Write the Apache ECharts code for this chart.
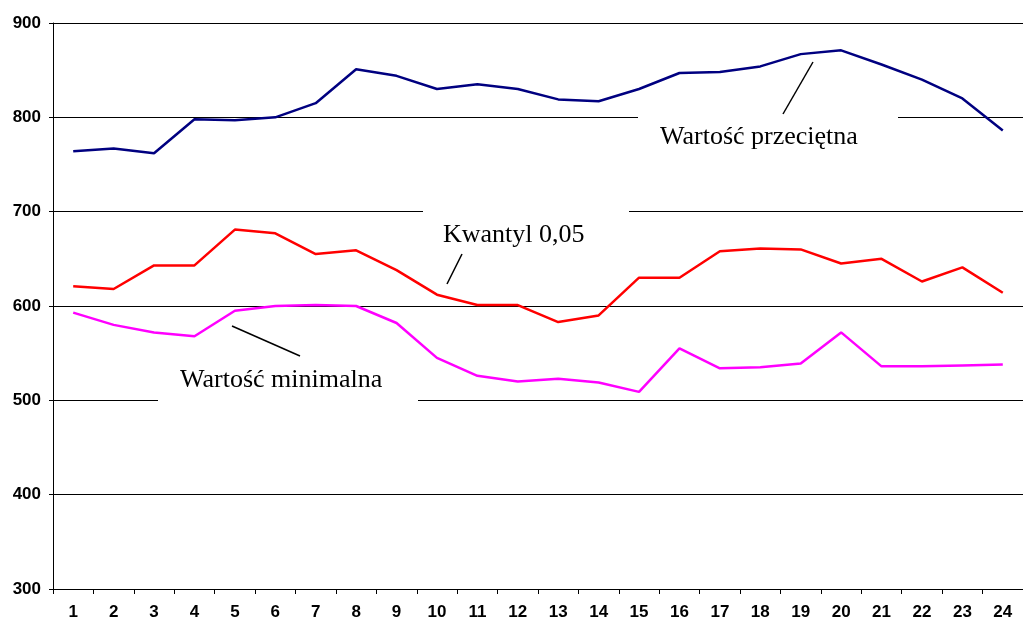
<!DOCTYPE html>
<html>
<head>
<meta charset="utf-8">
<script src="https://cdn.jsdelivr.net/npm/echarts@6/dist/echarts.min.js"></script>
<style>
  html, body { margin: 0; padding: 0; background: #fff; }
  #chart { width: 1023px; height: 624px; }
</style>
</head>
<body>
<div id="chart"></div>
<script>
const hours = ['1','2','3','4','5','6','7','8','9','10','11','12','13','14','15','16','17','18','19','20','21','22','23','24']

// Wartość przeciętna
const avgValues = [764, 767, 762, 798, 797, 800, 815, 851, 844, 830, 835, 830, 819, 817, 830, 847, 848, 854, 867, 871, 856, 840, 820, 786]
// Kwantyl 0,05
const q05Values = [621, 618, 643, 643, 681, 677, 655, 659, 638, 612, 601, 601, 583, 590, 630, 630, 658, 661, 660, 645, 650, 626, 641, 614]
// Wartość minimalna
const minValues = [593, 580, 572, 568, 595, 600, 601, 600, 582, 545, 526, 520, 523, 519, 509, 555, 534, 535, 539, 572, 536, 536, 537, 538]

const chart = echarts.init(document.getElementById('chart'))

const labelFont = { fontFamily: 'Liberation Serif', fontSize: 26, fill: '#000' }

chart.setOption({
  animation: false,
  grid: { left: 53, right: 0, top: 23, bottom: 35 },
  xAxis: {
    type: 'category',
    data: hours,
    boundaryGap: true,
    axisLine: { lineStyle: { color: '#000', width: 1 } },
    axisTick: { show: true, alignWithLabel: false, length: 5, lineStyle: { color: '#000' } },
    axisLabel: { color: '#000', fontFamily: 'Liberation Sans', fontWeight: 'bold', fontSize: 17, margin: 15 }
  },
  yAxis: {
    type: 'value',
    min: 300,
    max: 900,
    interval: 100,
    axisLine: { show: true, lineStyle: { color: '#000', width: 1 } },
    axisTick: { show: true, length: 4, lineStyle: { color: '#000' } },
    axisLabel: { color: '#000', fontFamily: 'Liberation Sans', fontWeight: 'bold', fontSize: 17, margin: 12 },
    splitLine: { lineStyle: { color: '#000', width: 1 } }
  },
  series: [
    {
      name: 'Wartość przeciętna',
      type: 'line',
      data: avgValues,
      symbol: 'none',
      lineStyle: { color: '#000080', width: 2.5 },
      z: 5
    },
    {
      name: 'Kwantyl 0,05',
      type: 'line',
      data: q05Values,
      symbol: 'none',
      lineStyle: { color: '#ff0000', width: 2.5 },
      z: 5
    },
    {
      name: 'Wartość minimalna',
      type: 'line',
      data: minValues,
      symbol: 'none',
      lineStyle: { color: '#ff00ff', width: 2.5 },
      z: 5
    }
  ],
  graphic: [
    // white label boxes breaking the gridlines
    { type: 'rect', shape: { x: 638, y: 112, width: 260, height: 42 }, style: { fill: '#fff' }, z: 3 },
    { type: 'rect', shape: { x: 423, y: 205, width: 206, height: 42 }, style: { fill: '#fff' }, z: 3 },
    { type: 'rect', shape: { x: 158, y: 360, width: 260, height: 44 }, style: { fill: '#fff' }, z: 3 },
    // leader lines
    { type: 'line', shape: { x1: 783, y1: 114, x2: 813, y2: 62 }, style: { stroke: '#000', lineWidth: 1.5 }, z: 4 },
    { type: 'line', shape: { x1: 447, y1: 284, x2: 462, y2: 254 }, style: { stroke: '#000', lineWidth: 1.5 }, z: 4 },
    { type: 'line', shape: { x1: 232, y1: 326, x2: 300, y2: 356 }, style: { stroke: '#000', lineWidth: 1.5 }, z: 4 },
    // labels
    { type: 'text', x: 660, y: 124, style: Object.assign({ text: 'Wartość przeciętna' }, labelFont), z: 4 },
    { type: 'text', x: 443, y: 222, style: Object.assign({ text: 'Kwantyl 0,05' }, labelFont), z: 4 },
    { type: 'text', x: 180, y: 367, style: Object.assign({ text: 'Wartość minimalna' }, labelFont), z: 4 }
  ]
})
</script>
</body>
</html>
